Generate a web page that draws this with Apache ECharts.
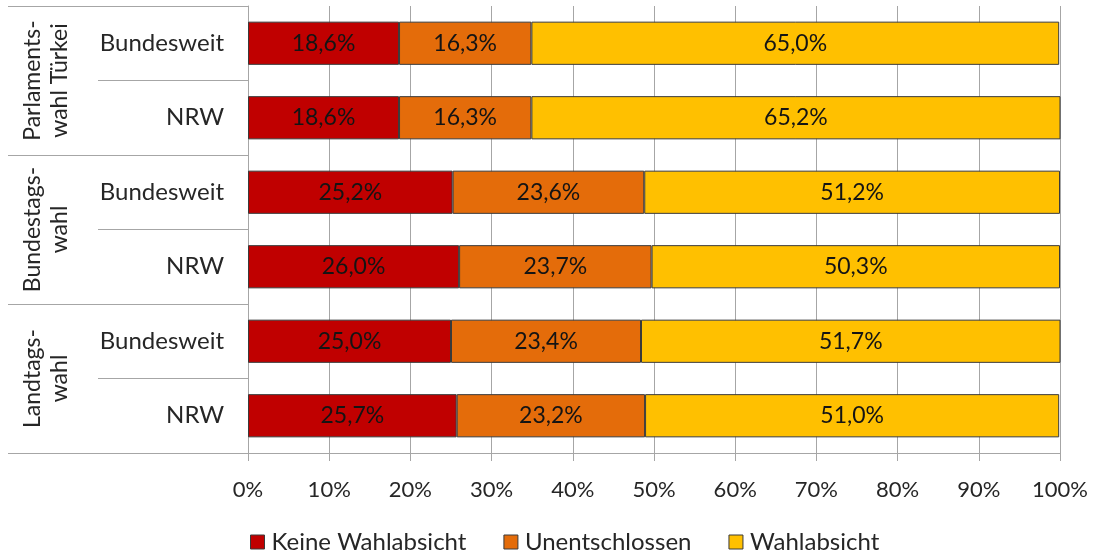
<!DOCTYPE html>
<html><head><meta charset="utf-8">
<script src="https://cdn.jsdelivr.net/npm/echarts@6/dist/echarts.min.js"></script>
<style>html,body{margin:0;padding:0;background:#fff}#c{width:1093px;height:553px}</style>
</head><body><div id="c"></div>
<script>
const categories = ['Bundesweit', 'NRW', 'Bundesweit', 'NRW', 'Bundesweit', 'NRW'];
const groups = ['Parlaments-\nwahl Türkei', 'Bundestags-\nwahl', 'Landtags-\nwahl'];
const keineWahlabsicht = [18.6, 18.6, 25.2, 26.0, 25.0, 25.7];
const unentschlossen = [16.3, 16.3, 23.6, 23.7, 23.4, 23.2];
const wahlabsicht = [65.0, 65.2, 51.2, 50.3, 51.7, 51.0];
const seriesNames = ['Keine Wahlabsicht', 'Unentschlossen', 'Wahlabsicht'];
const xTicks = [0, 10, 20, 30, 40, 50, 60, 70, 80, 90, 100];

const FONT = 'Lato';
const GRID = '#A6A6A6';
const TXT = '#262626';
const fmt = v => v.toFixed(1).replace('.', ',') + '%';

const chart = echarts.init(document.getElementById('c'), null, {renderer: 'canvas'});
const mk = (name, data, color) => ({
  name, type: 'bar', stack: 'all', data,
  barCategoryGap: '42%',
  itemStyle: {color, borderColor: '#3a3a3a', borderWidth: 1},
  label: {show: true, position: 'inside', formatter: p => fmt(p.value),
    color: '#141414', fontFamily: FONT, fontSize: 23},
  emphasis: {disabled: true}
});
chart.setOption({
  animation: false,
  textStyle: {fontFamily: FONT},
  grid: {left: 248, right: 33, top: 6, bottom: 100, containLabel: false},
  legend: {
    top: 530, left: 250, padding: 0, itemWidth: 14, itemHeight: 14, itemGap: 37,
    icon: 'rect',
    textStyle: {fontFamily: FONT, fontSize: 24, color: TXT, padding: [0, 0, 0, 2]},
    itemStyle: {borderColor: '#3a3a3a', borderWidth: 1},
    data: seriesNames
  },
  xAxis: {
    type: 'value', min: xTicks[0], max: xTicks[xTicks.length - 1], interval: 10,
    axisLine: {show: true, lineStyle: {color: GRID, width: 1}},
    axisTick: {show: true, length: 8, lineStyle: {color: GRID}},
    splitLine: {show: true, lineStyle: {color: GRID, width: 1}},
    axisLabel: {formatter: '{value}%', fontFamily: FONT, fontSize: 22, color: TXT, margin: 26}
  },
  yAxis: [{
    type: 'category', inverse: true, data: categories, position: 'left',
    axisLine: {show: true, lineStyle: {color: GRID}},
    axisTick: {show: true, interval: 0, length: 150, lineStyle: {color: GRID}},
    axisLabel: {interval: 0, fontFamily: FONT, fontSize: 24, color: TXT, margin: 24, align: 'right'}
  }, {
    type: 'category', inverse: true, data: groups, position: 'left', offset: 0,
    axisLine: {show: false},
    axisTick: {show: true, interval: 0, length: 240, lineStyle: {color: GRID}},
    axisLabel: {interval: 0, hideOverlap: false, fontFamily: FONT, fontSize: 23, color: TXT, margin: 175, rotate: 90, lineHeight: 27}
  }],
  series: [
    mk(seriesNames[0], keineWahlabsicht, '#C00000'),
    mk(seriesNames[1], unentschlossen, '#E46C0A'),
    mk(seriesNames[2], wahlabsicht, '#FFC000')
  ]
});
</script></body></html>
